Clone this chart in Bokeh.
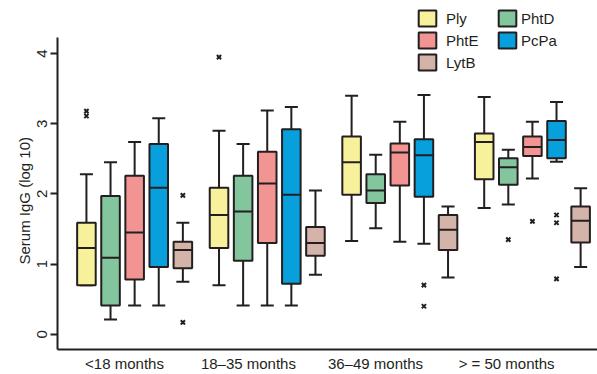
from bokeh.plotting import figure
from bokeh.models import Range1d, FixedTicker, Legend, LegendItem, ColumnDataSource, Title
from bokeh.embed import file_html
from bokeh.resources import INLINE

# ---------------- data ----------------
groups = ["<18 months", "18–35 months", "36–49 months", "> = 50 months"]
series = ["Ply", "PhtD", "PhtE", "PcPa", "LytB"]
colors = ["#F8F19B", "#83C59C", "#F29592", "#08A0DC", "#D4B3A8"]

# (lower whisker, Q1, median, Q3, upper whisker) for each age group
ply  = [(0.70, 0.70, 1.23, 1.59, 2.28), (0.70, 1.23, 1.70, 2.09, 2.90),
        (1.33, 1.99, 2.45, 2.82, 3.40), (1.80, 2.21, 2.74, 2.86, 3.38)]
phtd = [(0.21, 0.41, 1.09, 1.97, 2.45), (0.41, 1.05, 1.75, 2.26, 2.71),
        (1.51, 1.87, 2.05, 2.28, 2.56), (1.85, 2.13, 2.38, 2.51, 2.63)]
phte = [(0.41, 0.78, 1.45, 2.26, 2.74), (0.41, 1.30, 2.15, 2.60, 3.19),
        (1.32, 2.12, 2.59, 2.72, 3.03), (2.22, 2.54, 2.67, 2.82, 3.03)]
pcpa = [(0.41, 0.96, 2.09, 2.71, 3.08), (0.41, 0.72, 1.99, 2.92, 3.24),
        (1.29, 1.96, 2.55, 2.78, 3.41), (2.46, 2.51, 2.77, 3.04, 3.31)]
lytb = [(0.75, 0.94, 1.20, 1.32, 1.59), (0.85, 1.12, 1.30, 1.53, 2.05),
        (0.81, 1.20, 1.49, 1.70, 1.82), (0.96, 1.31, 1.62, 1.82, 2.08)]

outlier_group  = [0, 0, 0, 0, 1, 2, 2, 3, 3, 3, 3, 3]
outlier_series = ["Ply", "Ply", "LytB", "LytB", "Ply", "PcPa", "PcPa",
                  "PhtD", "PhtE", "PcPa", "PcPa", "PcPa"]
outlier_value  = [3.18, 3.11, 1.98, 0.17, 3.95, 0.70, 0.40,
                  1.35, 1.61, 1.70, 1.59, 0.79]

y_ticks = [0, 1, 2, 3, 4]
y_title = "Serum IgG (log 10)"

# ---------------- layout ----------------
GROUP_STEP = 5.5
BOX_W = 0.77
CAP_W = 0.54
label_pos = [1.58, 6.72, 11.99, 17.43]
Y_LO, Y_AXIS_TOP, Y_HI = -0.216, 4.233, 4.756
INK = "#231F20"
FONT = "Liberation Sans"

p = figure(width=597, height=374, output_backend="svg", toolbar_location=None,
           x_range=Range1d(-1.2, 21.2), y_range=Range1d(Y_LO, Y_HI),
           min_border_left=57, min_border_top=0, min_border_right=0,
           min_border_bottom=22)
p.outline_line_color = None
p.xgrid.visible = False
p.ygrid.visible = False
p.background_fill_color = "white"

stats = [ply, phtd, phte, pcpa, lytb]
box_renderers = {}
for si, (name, col, st) in enumerate(zip(series, colors, stats)):
    xs = [g * GROUP_STEP + si for g in range(len(groups))]
    src = ColumnDataSource(dict(
        x=xs,
        lo=[s[0] for s in st], q1=[s[1] for s in st], med=[s[2] for s in st],
        q3=[s[3] for s in st], hi=[s[4] for s in st],
        c0=[x - CAP_W / 2 for x in xs], c1=[x + CAP_W / 2 for x in xs],
        m0=[x - BOX_W / 2 for x in xs], m1=[x + BOX_W / 2 for x in xs],
    ))
    p.segment(x0="x", y0="q3", x1="x", y1="hi", source=src, line_color=INK, line_width=2)
    p.segment(x0="x", y0="lo", x1="x", y1="q1", source=src, line_color=INK, line_width=2)
    p.segment(x0="c0", y0="hi", x1="c1", y1="hi", source=src, line_color=INK, line_width=2)
    p.segment(x0="c0", y0="lo", x1="c1", y1="lo", source=src, line_color=INK, line_width=2)
    r = p.vbar(x="x", width=BOX_W, top="q3", bottom="q1", source=src,
               fill_color=col, line_color=INK, line_width=2)
    p.segment(x0="m0", y0="med", x1="m1", y1="med", source=src, line_color=INK, line_width=2)
    box_renderers[name] = r

ox = [g * GROUP_STEP + series.index(s) for g, s in zip(outlier_group, outlier_series)]
p.scatter(x=ox, y=outlier_value, marker="x", size=6, line_color=INK, line_width=2)

# ---------------- axes ----------------
p.yaxis.bounds = (Y_LO, Y_AXIS_TOP)
p.yaxis.ticker = FixedTicker(ticks=y_ticks)
p.yaxis.minor_tick_line_color = None
p.yaxis.major_tick_in = 0
p.yaxis.major_tick_out = 7
p.yaxis.major_tick_line_color = INK
p.yaxis.major_tick_line_width = 2
p.yaxis.major_label_orientation = "vertical"
p.yaxis.major_label_standoff = 3
p.yaxis.axis_label = None

p.xaxis.ticker = FixedTicker(ticks=label_pos)
p.xaxis.major_label_overrides = {v: g for v, g in zip(label_pos, groups)}
p.xaxis.major_tick_line_color = None
p.xaxis.major_tick_in = 0
p.xaxis.major_tick_out = 0
p.xaxis.minor_tick_line_color = None
p.xaxis.major_label_standoff = 5
p.xaxis.axis_label = None

for ax in (p.xaxis, p.yaxis):
    ax.axis_line_color = INK
    ax.axis_line_width = 2
    ax.major_label_text_font = FONT
    ax.major_label_text_font_size = "15px"
    ax.major_label_text_color = INK

# y-axis title, placed along the drawn part of the axis
p.add_layout(Title(text=y_title, align="left", offset=85, standoff=4,
                   text_font=FONT, text_font_size="15px", text_font_style="normal",
                   text_color=INK), "left")

# ---------------- legend ----------------
def make_legend(names, loc, standoff):
    lg = Legend(items=[LegendItem(label=n, renderers=[box_renderers[n]]) for n in names],
                location=loc, orientation="vertical",
                glyph_width=22, glyph_height=20, label_height=20, spacing=2,
                padding=0, margin=0, label_standoff=standoff,
                border_line_color=None, background_fill_alpha=0,
                label_text_font=FONT, label_text_font_size="15px",
                label_text_color=INK)
    p.add_layout(lg, "center")

make_legend(["Ply", "PhtE", "LytB"], (359, 277), 8)
make_legend(["PhtD", "PcPa"], (439, 299), 3)

open("out.html", "w").write(file_html(p, INLINE))
